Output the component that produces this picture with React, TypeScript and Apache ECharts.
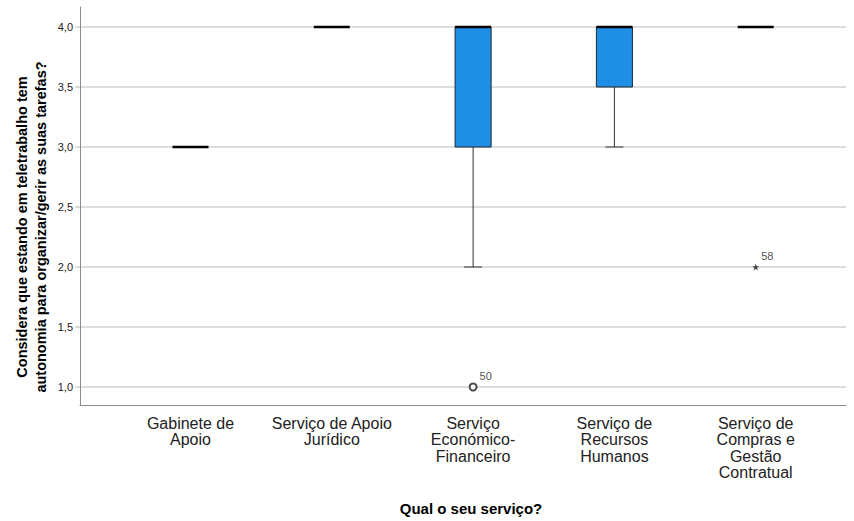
import React, { useEffect, useRef } from 'react';
import * as echarts from 'echarts';

// Service categories (x axis) and the five-number summary of each box
const categories = [
  'Gabinete de\nApoio',
  'Serviço de Apoio\nJurídico',
  'Serviço\nEconómico-\nFinanceiro',
  'Serviço de\nRecursos\nHumanos',
  'Serviço de\nCompras e\nGestão\nContratual',
];
const whiskerLow = [3, 4, 2, 3, 4];
const quartile1 = [3, 4, 3, 3.5, 4];
const medians = [3, 4, 4, 4, 4];
const quartile3 = [3, 4, 4, 4, 4];
const whiskerHigh = [3, 4, 4, 4, 4];

// Points beyond the whiskers: outliers (circle) and extremes (star), with case numbers
const outlierCategory = [2];
const outlierValue = [1];
const outlierCase = ['50'];
const extremeCategory = [4];
const extremeValue = [2];
const extremeCase = ['58'];

const yTicks = [1, 1.5, 2, 2.5, 3, 3.5, 4];
const yTitle = 'Considera que estando em teletrabalho tem\nautonomia para organizar/gerir as suas tarefas?';
const xTitle = 'Qual o seu serviço?';

const FONT = '"Liberation Sans", Arial, Helvetica, sans-serif';
const STAR = 'path://M0,-10L2.2,-3L9.5,-3.1L3.6,1.2L5.9,8.1L0,3.8L-5.9,8.1L-3.6,1.2L-9.5,-3.1L-2.2,-3Z';

export default function App() {
  const ref = useRef<HTMLDivElement>(null);

  useEffect(() => {
    if (!ref.current) return;
    const chart = echarts.init(ref.current, undefined, { renderer: 'svg' });

    const boxData = categories.map((_, i) => [
      i,
      whiskerLow[i],
      quartile1[i],
      medians[i],
      quartile3[i],
      whiskerHigh[i],
    ]);
    const outliers = outlierCategory.map((c, i) => ({ value: [c, outlierValue[i]], name: outlierCase[i] }));
    const extremes = extremeCategory.map((c, i) => ({ value: [c, extremeValue[i]], name: extremeCase[i] }));

    const pointLabel = {
      show: true,
      position: 'right' as const,
      distance: 2,
      offset: [0, -11],
      formatter: (p: any) => p.name,
      fontFamily: FONT,
      fontSize: 11,
      color: '#222',
    };

    chart.setOption({
      animation: false,
      backgroundColor: '#ffffff',
      grid: { left: 80, right: 8, top: 7, bottom: 116, containLabel: false, outerBoundsMode: 'none' },
      xAxis: {
        type: 'value',
        min: -0.782,
        max: 4.639,
        splitLine: { show: false },
        axisTick: { show: false },
        axisLine: { show: true, onZero: false, lineStyle: { color: '#8c8c8c', width: 1 } },
        axisLabel: {
          customValues: categories.map((_, i) => i),
          formatter: (v: number) => categories[Math.round(v)] ?? '',
          fontFamily: FONT,
          fontSize: 16,
          lineHeight: 16.5,
          color: '#222',
          margin: 10,
          align: 'center',
        },
      },
      yAxis: {
        type: 'value',
        min: 0.85,
        max: 4.1667,
        axisLine: { show: true, onZero: false, lineStyle: { color: '#8c8c8c', width: 1 } },
        axisTick: {
          show: true,
          customValues: yTicks,
          length: 5,
          lineStyle: { color: '#cfcfcf', width: 1.5 },
        },
        splitLine: { show: true, lineStyle: { color: '#d3d3d3', width: 1.5 } },
        axisLabel: {
          customValues: yTicks,
          formatter: (v: number) => v.toFixed(1).replace('.', ','),
          fontFamily: FONT,
          fontSize: 11,
          color: '#222',
          margin: 7,
        },
      },
      graphic: [
        {
          type: 'text',
          x: 31,
          y: 227,
          rotation: Math.PI / 2,
          style: {
            text: yTitle,
            font: `bold 14.5px ${FONT}`,
            lineHeight: 19,
            fill: '#000',
            align: 'center',
            verticalAlign: 'middle',
          },
        },
        {
          type: 'text',
          x: 471,
          y: 508,
          style: {
            text: xTitle,
            font: `bold 15px ${FONT}`,
            fill: '#000',
            align: 'center',
            verticalAlign: 'middle',
          },
        },
      ],
      series: [
        {
          type: 'custom',
          data: boxData,
          encode: { x: 0, y: [1, 2, 3, 4, 5] },
          z: 3,
          renderItem: (_params: any, api: any) => {
            const i = api.value(0);
            const lo = api.value(1);
            const q1 = api.value(2);
            const md = api.value(3);
            const q3 = api.value(4);
            const hi = api.value(5);
            const bw = api.size([1, 0])[0] * 0.255;
            const cap = bw / 2;
            const pLo = api.coord([i, lo]);
            const pQ1 = api.coord([i, q1]);
            const pMd = api.coord([i, md]);
            const pQ3 = api.coord([i, q3]);
            const pHi = api.coord([i, hi]);
            const cx = pMd[0];
            const whisker = { stroke: '#333', lineWidth: 1 };
            const children: any[] = [];
            if (hi > q3) {
              children.push({ type: 'line', shape: { x1: cx, y1: pHi[1], x2: cx, y2: pQ3[1] }, style: whisker });
              children.push({ type: 'line', shape: { x1: cx - cap / 2, y1: pHi[1], x2: cx + cap / 2, y2: pHi[1] }, style: whisker });
            }
            if (lo < q1) {
              children.push({ type: 'line', shape: { x1: cx, y1: pQ1[1], x2: cx, y2: pLo[1] }, style: whisker });
              children.push({ type: 'line', shape: { x1: cx - cap / 2, y1: pLo[1], x2: cx + cap / 2, y2: pLo[1] }, style: whisker });
            }
            if (q3 > q1) {
              children.push({
                type: 'rect',
                shape: { x: cx - bw / 2, y: pQ3[1], width: bw, height: pQ1[1] - pQ3[1] },
                style: { fill: '#1f8fe6', stroke: '#1d2733', lineWidth: 1 },
              });
            }
            children.push({
              type: 'line',
              shape: { x1: cx - bw / 2, y1: pMd[1], x2: cx + bw / 2, y2: pMd[1] },
              style: { stroke: '#000', lineWidth: 2.5 },
            });
            return { type: 'group', children };
          },
        },
        {
          type: 'scatter',
          data: outliers,
          symbol: 'emptyCircle',
          symbolSize: 7,
          itemStyle: { color: '#222', borderColor: '#222', borderWidth: 1 },
          label: pointLabel,
          z: 4,
        },
        {
          type: 'scatter',
          data: extremes,
          symbol: STAR,
          symbolSize: 7,
          itemStyle: { color: '#111' },
          label: pointLabel,
          z: 4,
        },
      ],
    });

    return () => chart.dispose();
  }, []);

  return (
    <div
      ref={ref}
      style={{ position: 'fixed', left: 0, top: 0, width: 854, height: 521, background: '#fff' }}
    />
  );
}
